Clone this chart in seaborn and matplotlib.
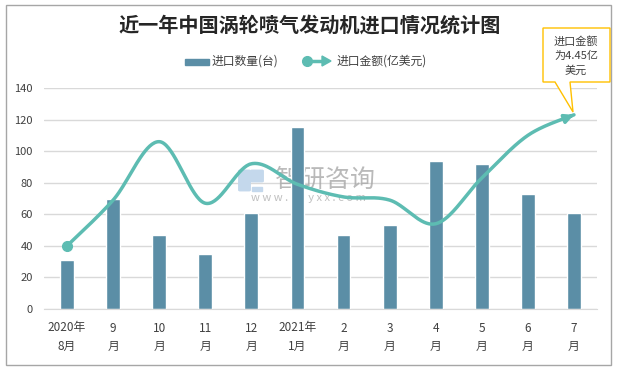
import numpy as np
import matplotlib.pyplot as plt
import seaborn as sns
from matplotlib.patches import Rectangle, Polygon, FancyBboxPatch
from matplotlib.lines import Line2D

# data
months = ['2020年\n8月', '9\n月', '10\n月', '11\n月', '12\n月', '2021年\n1月',
          '2\n月', '3\n月', '4\n月', '5\n月', '6\n月', '7\n月']
quantity = [31, 70, 47, 35, 61, 115, 47, 53, 94, 92, 73, 61]
amount = [40, 69, 106, 67, 92, 79, 71, 69, 54, 83, 110, 123]
yticks = [0, 20, 40, 60, 80, 100, 120, 140]

bar_color = '#5b8ea6'
line_color = '#5dbcb2'
grid_color = '#d9d9d9'
text_color = '#404040'

sns.set_style('white')
plt.rcParams['font.family'] = ['Noto Sans CJK SC', 'DejaVu Sans']

W, H = 617, 371
fig = plt.figure(figsize=(W / 100, H / 100), dpi=100)


def fx(px):
    return px / W


def fy(py):
    return 1 - py / H


# smooth curve through the points (bezier, like Excel "smoothed line")
def smooth(xs, ys, n=40):
    P = np.column_stack([np.asarray(xs, float), np.asarray(ys, float)])
    P = np.vstack([P[0], P, P[-1]])
    segs = []
    t = np.linspace(0, 1, n)[:, None]
    for i in range(1, len(P) - 2):
        p0, p1, p2, p3 = P[i - 1], P[i], P[i + 1], P[i + 2]
        c1 = p1 + (p2 - p0) / 6
        c2 = p2 - (p3 - p1) / 6
        segs.append((1 - t) ** 3 * p1 + 3 * (1 - t) ** 2 * t * c1
                    + 3 * (1 - t) * t ** 2 * c2 + t ** 3 * p2)
    return np.vstack(segs)


ax = fig.add_axes([fx(44), fy(309), fx(597 - 44), (309 - 88) / H])

pos = list(range(len(months)))
sns.barplot(x=pos, y=quantity, color=bar_color, width=0.3, saturation=1, ax=ax, zorder=2)

curve = smooth(pos, amount)
sns.lineplot(x=curve[:, 0], y=curve[:, 1], sort=False, estimator=None,
             color=line_color, lw=2.5, ax=ax, zorder=3)
ax.plot(pos[0], amount[0], 'o', ms=7, color=line_color, zorder=4)
ax.annotate('', xy=(pos[-1], amount[-1]), xytext=(curve[-6, 0], curve[-6, 1]),
            arrowprops=dict(arrowstyle='-|>', color=line_color, lw=2.5,
                            mutation_scale=13, shrinkA=0, shrinkB=0), zorder=4)

ax.set_xlim(-0.5, len(months) - 0.5)
ax.set_ylim(0, 140)
ax.set_yticks(yticks)
ax.set_xticks(pos)
ax.set_xticklabels(months, linespacing=1.5)
ax.tick_params(axis='x', length=0, pad=9, labelsize=8.5, colors=text_color)
ax.tick_params(axis='y', length=0, pad=8, labelsize=8, colors=text_color)
ax.yaxis.grid(True, color=grid_color, lw=1)
ax.set_axisbelow(True)
for s in ['left', 'right', 'top']:
    ax.spines[s].set_visible(False)
ax.spines['bottom'].set_color(grid_color)

# watermark (inside the axes, under bars and line)
ft = fig.transFigure
ax.text(fx(325), fy(180), '智研咨询', transform=ft, fontsize=18, color='#a8a8a8',
        alpha=0.8, ha='center', va='center', zorder=1)
ax.text(fx(308), fy(198), 'w w w . c h y x x . c o m', transform=ft, fontsize=8,
        color='#b0b0b0', alpha=0.8, ha='center', va='center', zorder=1)
logo = '#c4d8ec'
ax.add_patch(FancyBboxPatch((fx(240), fy(190)), fx(9), 19 / H, transform=ft,
                            boxstyle='round,pad=0.002', color=logo, zorder=1))
ax.add_patch(FancyBboxPatch((fx(252), fy(181)), fx(10), 10 / H, transform=ft,
                            boxstyle='round,pad=0.002', color=logo, zorder=1))
ax.add_patch(Rectangle((fx(252), fy(191)), fx(10), 4 / H, transform=ft,
                       color=logo, zorder=1))

# title
fig.text(fx(310), fy(25), '近一年中国涡轮喷气发动机进口情况统计图', fontsize=14.5,
         fontweight='bold', color='#262626', ha='center', va='center')

# legend
fig.add_artist(Rectangle((fx(185), fy(65)), fx(24), 6 / H, transform=ft,
                         color=bar_color))
fig.text(fx(212), fy(61), '进口数量(台)', fontsize=8.5, color=text_color, va='center')
fig.add_artist(Line2D([fx(307), fx(324)], [fy(61), fy(61)], transform=ft,
                      color=line_color, lw=2.5))
fig.add_artist(Line2D([fx(307)], [fy(61)], transform=ft, marker='o',
                      ms=7, color=line_color))
fig.add_artist(Polygon([(fx(322), fy(56)), (fx(331), fy(61)), (fx(322), fy(66))],
                       closed=True, transform=ft, color=line_color))
fig.text(fx(337), fy(61), '进口金额(亿美元)', fontsize=8.5, color=text_color, va='center')

# callout
callout = [(543, 28), (610, 28), (610, 82), (570, 82), (573, 112), (555, 82), (543, 82)]
fig.add_artist(Polygon([(fx(a), fy(b)) for a, b in callout], closed=True,
                       transform=ft, facecolor='white', edgecolor='#ffc000',
                       lw=1, zorder=5))
fig.text(fx(576), fy(56), '进口金额\n为4.45亿\n美元', fontsize=8, color=text_color,
         ha='center', va='center', linespacing=1.45, zorder=6)

# outer frame
fig.add_artist(Rectangle((fx(6), fy(365)), fx(605), (365 - 5) / H, transform=ft,
                         fill=False, edgecolor='#a6a6a6', lw=1))

fig.savefig('out.png', dpi=100)
